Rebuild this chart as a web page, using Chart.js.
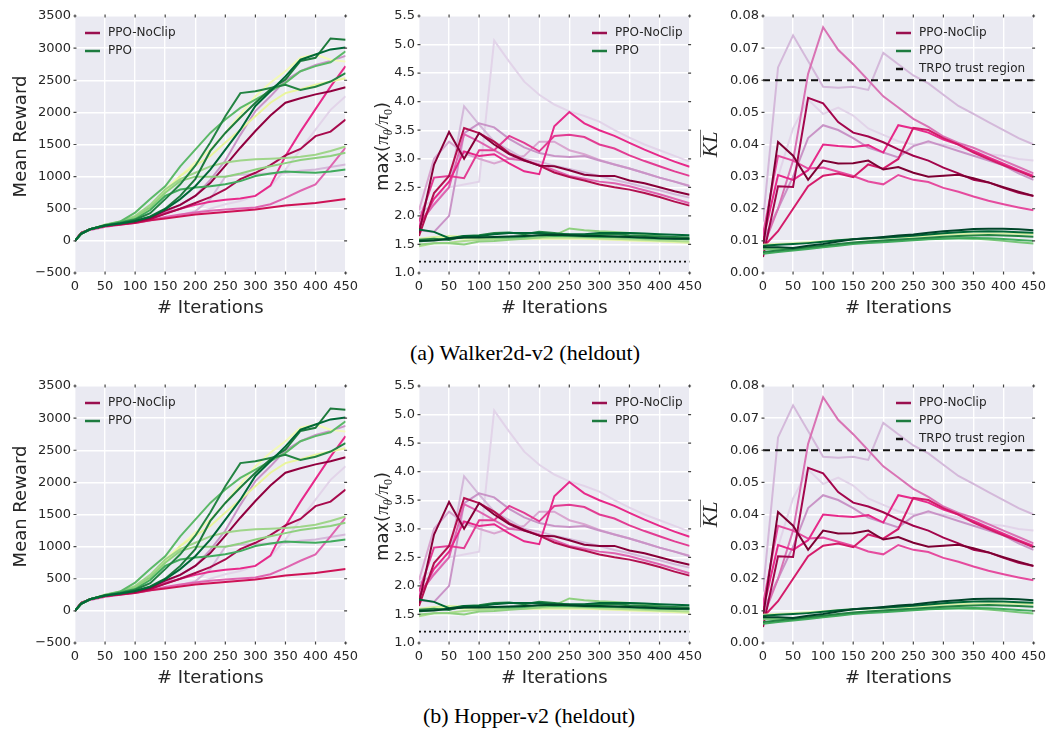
<!DOCTYPE html>
<html>
<head>
<meta charset="utf-8">
<script src="https://cdn.jsdelivr.net/npm/chart.js@4.4.1/dist/chart.umd.min.js"></script>
<style>
  body { margin: 0; background: #fff; width: 1052px; height: 736px; position: relative; overflow: hidden; }
  .plot { position: absolute; }
  .caption { position: absolute; width: 600px; text-align: center; font-family: 'Liberation Serif', 'Times New Roman', serif; font-size: 22px; line-height: 26px; color: #000; }
</style>
</head>
<body>
<div class="plot" style="left:0px;top:0px"><canvas id="rewardA" width="364" height="320"></canvas></div>
<div class="plot" style="left:352px;top:0px"><canvas id="ratioA" width="356" height="320"></canvas></div>
<div class="plot" style="left:700px;top:0px"><canvas id="klA" width="352" height="320"></canvas></div>
<div class="caption" style="left:225px;top:340px">(a) Walker2d-v2 (heldout)</div>
<div class="plot" style="left:0px;top:370px"><canvas id="rewardB" width="364" height="320"></canvas></div>
<div class="plot" style="left:352px;top:370px"><canvas id="ratioB" width="356" height="320"></canvas></div>
<div class="plot" style="left:700px;top:370px"><canvas id="klB" width="352" height="320"></canvas></div>
<div class="caption" style="left:229px;top:703px">(b) Hopper-v2 (heldout)</div>
<script>
// iterations
var rewardIters = [0, 10, 25, 50, 75, 100, 125, 150, 175, 200, 225, 250, 275, 300, 325, 350, 375, 400, 425, 450];
var iters = [0, 25, 50, 75, 100, 125, 150, 175, 200, 225, 250, 275, 300, 325, 350, 375, 400, 425, 450];

// Mean reward, PPO-NoClip runs
var rewardNoClip = [
  [0, 120, 180, 240, 270, 300, 360, 470, 560, 700, 900, 1170, 1450, 1710, 1950, 2150, 2220, 2280, 2330, 2390],
  [0, 120, 180, 230, 260, 290, 340, 420, 500, 590, 680, 800, 960, 1060, 1180, 1330, 1430, 1630, 1700, 1890],
  [0, 120, 180, 230, 260, 290, 340, 430, 500, 560, 610, 640, 660, 700, 860, 1320, 1700, 2050, 2400, 2720],
  [0, 110, 170, 220, 250, 280, 320, 370, 410, 440, 470, 490, 505, 520, 570, 670, 780, 880, 1160, 1450],
  [0, 120, 180, 230, 255, 280, 320, 350, 380, 410, 430, 450, 470, 490, 520, 550, 570, 590, 620, 650],
  [0, 110, 170, 220, 250, 280, 320, 360, 400, 460, 650, 1000, 1030, 1040, 1050, 1060, 1090, 1110, 1150, 1190],
  [0, 110, 170, 220, 250, 280, 310, 350, 400, 440, 500, 570, 620, 700, 850, 1110, 1420, 1730, 2040, 2250],
  [0, 120, 180, 240, 270, 310, 370, 450, 560, 700, 950, 1250, 1650, 2020, 2250, 2500, 2640, 2740, 2800, 2880]
];
// Mean reward, PPO runs
var rewardPPO = [
  [0, 110, 180, 240, 270, 310, 370, 490, 650, 850, 1110, 1420, 1730, 2100, 2330, 2560, 2820, 2900, 2980, 3010],
  [0, 110, 180, 240, 270, 310, 380, 500, 700, 960, 1400, 1680, 1920, 2150, 2360, 2510, 2800, 2850, 3150, 3130],
  [0, 110, 180, 240, 280, 330, 430, 650, 880, 1170, 1530, 1940, 2300, 2330, 2380, 2430, 2350, 2400, 2480, 2610],
  [0, 110, 180, 245, 290, 340, 480, 700, 800, 830, 850, 880, 930, 1010, 1050, 1080, 1070, 1060, 1080, 1110],
  [0, 110, 180, 245, 300, 440, 650, 850, 1160, 1420, 1680, 1890, 2070, 2200, 2330, 2460, 2640, 2720, 2780, 2950],
  [0, 110, 180, 250, 300, 390, 560, 800, 960, 1060, 1160, 1220, 1250, 1270, 1280, 1290, 1310, 1340, 1400, 1470],
  [0, 110, 180, 250, 300, 370, 520, 750, 930, 1000, 1000, 1000, 1050, 1110, 1160, 1210, 1260, 1290, 1320, 1370],
  [0, 110, 180, 245, 290, 360, 520, 750, 1010, 1170, 1320, 1530, 1730, 1940, 2150, 2300, 2360, 2430, 2480, 2530],
  [0, 110, 180, 245, 290, 360, 500, 800, 1010, 1220, 1420, 1680, 1970, 2250, 2460, 2640, 2850, 2900, 2820, 2790]
];
var rewardNoClipColors = ['#91003f', '#a80a4d', '#e7298a', '#df65b0', '#ce1256', '#d4b9da', '#e2d4e9', '#c994c7'];
var rewardPPOColors = ['#006837', '#1d7a3c', '#238443', '#41ab5d', '#5cb968', '#9fd58a', '#8fd07f', '#e9f59d', '#f3fab5'];

// max(pi_theta / pi_0)
var ratioNoClip = [
  [2.1, 2.3, 2.5, 2.55, 2.6, 5.07, 4.7, 4.35, 4.12, 3.95, 3.83, 3.75, 3.65, 3.5, 3.37, 3.25, 3.15, 3.05, 2.95],
  [2.05, 2.2, 2.5, 3.92, 3.6, 3.3, 3.15, 3.0, 2.95, 2.88, 2.82, 2.76, 2.7, 2.63, 2.57, 2.5, 2.45, 2.38, 2.32],
  [1.75, 1.72, 2.0, 3.45, 3.62, 3.55, 3.35, 3.2, 3.1, 3.05, 3.03, 3.05, 2.97, 2.9, 2.83, 2.75, 2.67, 2.6, 2.52],
  [2.1, 3.0, 3.3, 3.1, 3.0, 2.92, 3.0, 3.05, 3.3, 3.3, 3.15, 3.08, 2.98, 2.9, 2.83, 2.75, 2.67, 2.6, 2.53],
  [1.8, 2.3, 2.6, 3.13, 3.05, 3.08, 2.92, 2.78, 2.73, 3.57, 3.82, 3.62, 3.5, 3.4, 3.28, 3.16, 3.05, 2.95, 2.86],
  [1.9, 2.67, 2.7, 2.66, 3.15, 3.15, 3.4, 3.28, 3.13, 3.4, 3.42, 3.38, 3.25, 3.18, 3.06, 2.96, 2.87, 2.78, 2.7],
  [1.85, 2.2, 2.5, 3.43, 3.3, 3.15, 3.0, 2.97, 2.9, 2.8, 2.7, 2.65, 2.6, 2.57, 2.52, 2.45, 2.38, 2.3, 2.22],
  [1.65, 2.4, 2.7, 3.54, 3.45, 3.3, 3.1, 2.98, 2.88, 2.76, 2.68, 2.62, 2.55, 2.5, 2.46, 2.4, 2.33, 2.25, 2.18],
  [1.7, 2.9, 3.47, 3.0, 3.45, 3.25, 3.08, 2.97, 2.88, 2.87, 2.8, 2.72, 2.7, 2.7, 2.62, 2.57, 2.5, 2.43, 2.37]
];
var ratioPPO = [
  [1.76, 1.72, 1.61, 1.65, 1.65, 1.68, 1.7, 1.7, 1.7, 1.68, 1.68, 1.68, 1.7, 1.7, 1.7, 1.69, 1.68, 1.67, 1.66],
  [1.58, 1.6, 1.58, 1.65, 1.66, 1.7, 1.71, 1.68, 1.72, 1.7, 1.67, 1.66, 1.67, 1.68, 1.66, 1.65, 1.64, 1.63, 1.62],
  [1.55, 1.58, 1.6, 1.62, 1.63, 1.62, 1.62, 1.63, 1.66, 1.65, 1.65, 1.64, 1.63, 1.63, 1.62, 1.61, 1.6, 1.6, 1.59],
  [1.5, 1.52, 1.52, 1.5, 1.55, 1.56, 1.58, 1.6, 1.62, 1.66, 1.78, 1.75, 1.73, 1.72, 1.7, 1.68, 1.65, 1.62, 1.6],
  [1.47, 1.52, 1.53, 1.56, 1.58, 1.59, 1.6, 1.61, 1.62, 1.62, 1.62, 1.62, 1.61, 1.6, 1.59, 1.58, 1.57, 1.56, 1.55],
  [1.6, 1.63, 1.65, 1.64, 1.62, 1.6, 1.6, 1.6, 1.61, 1.62, 1.62, 1.61, 1.6, 1.59, 1.58, 1.57, 1.56, 1.55, 1.53],
  [1.58, 1.62, 1.62, 1.6, 1.6, 1.6, 1.61, 1.6, 1.6, 1.6, 1.6, 1.6, 1.59, 1.58, 1.57, 1.56, 1.55, 1.54, 1.53],
  [1.56, 1.57, 1.6, 1.62, 1.62, 1.63, 1.64, 1.65, 1.66, 1.67, 1.66, 1.65, 1.65, 1.64, 1.63, 1.62, 1.61, 1.6, 1.6]
];
var ratioNoClipColors = ['#e2d4e9', '#d4b9da', '#c994c7', '#d9a6d0', '#e7298a', '#e23d93', '#df65b0', '#b3104f', '#880039'];
var ratioPPOColors = ['#006837', '#238443', '#41ab5d', '#8fd07f', '#addd8e', '#d9f0a3', '#eef7ae', '#004529'];
var clipBound = 1.2;

// mean KL
var klNoClip = [
  [0.016, 0.064, 0.074, 0.066, 0.058, 0.0577, 0.058, 0.057, 0.0685, 0.065, 0.0615, 0.059, 0.0555, 0.052, 0.0495, 0.047, 0.0445, 0.042, 0.040],
  [0.012, 0.030, 0.045, 0.054, 0.0495, 0.0515, 0.049, 0.045, 0.043, 0.041, 0.040, 0.0405, 0.040, 0.039, 0.038, 0.037, 0.0365, 0.0355, 0.035],
  [0.010, 0.020, 0.030, 0.042, 0.046, 0.0445, 0.042, 0.039, 0.0375, 0.036, 0.0395, 0.041, 0.0395, 0.038, 0.0365, 0.035, 0.0335, 0.031, 0.029],
  [0.008, 0.020, 0.035, 0.062, 0.0765, 0.0695, 0.065, 0.060, 0.055, 0.0515, 0.048, 0.0455, 0.0425, 0.0405, 0.039, 0.037, 0.035, 0.033, 0.031],
  [0.010, 0.0305, 0.029, 0.032, 0.040, 0.0395, 0.0392, 0.0398, 0.0375, 0.046, 0.045, 0.0437, 0.0415, 0.040, 0.038, 0.036, 0.034, 0.032, 0.0302],
  [0.012, 0.0365, 0.035, 0.0325, 0.0328, 0.0315, 0.0302, 0.0285, 0.0276, 0.0305, 0.029, 0.0283, 0.0265, 0.0253, 0.0238, 0.0225, 0.0214, 0.0204, 0.0195],
  [0.008, 0.013, 0.020, 0.027, 0.0303, 0.031, 0.0298, 0.0338, 0.0325, 0.0355, 0.0452, 0.0445, 0.042, 0.040, 0.0375, 0.0355, 0.0335, 0.0317, 0.0298],
  [0.005, 0.027, 0.0268, 0.0545, 0.0528, 0.047, 0.0437, 0.0425, 0.0407, 0.0385, 0.0365, 0.035, 0.0328, 0.031, 0.029, 0.0282, 0.0265, 0.025, 0.024],
  [0.008, 0.0408, 0.0365, 0.029, 0.035, 0.0341, 0.0342, 0.035, 0.0322, 0.033, 0.0312, 0.030, 0.0303, 0.0306, 0.0295, 0.0282, 0.0267, 0.0253, 0.024]
];
var klPPO = [
  [0.0080, 0.0080, 0.0078, 0.0085, 0.0090, 0.0098, 0.0105, 0.0108, 0.0112, 0.0117, 0.0120, 0.0125, 0.0130, 0.0133, 0.0137, 0.0138, 0.0138, 0.0136, 0.0133],
  [0.0085, 0.0088, 0.0090, 0.0093, 0.0097, 0.0102, 0.0105, 0.0108, 0.0110, 0.0113, 0.0116, 0.0120, 0.0124, 0.0127, 0.0129, 0.0130, 0.0129, 0.0127, 0.0125],
  [0.0065, 0.0070, 0.0075, 0.0080, 0.0085, 0.0090, 0.0095, 0.0098, 0.0101, 0.0104, 0.0107, 0.0110, 0.0113, 0.0115, 0.0117, 0.0118, 0.0117, 0.0115, 0.0113],
  [0.0060, 0.0065, 0.0070, 0.0075, 0.0080, 0.0085, 0.0090, 0.0093, 0.0096, 0.0099, 0.0102, 0.0105, 0.0107, 0.0108, 0.0109, 0.0108, 0.0106, 0.0103, 0.0100],
  [0.0075, 0.0075, 0.0075, 0.0078, 0.0082, 0.0088, 0.0093, 0.0097, 0.0100, 0.0102, 0.0104, 0.0106, 0.0108, 0.0108, 0.0107, 0.0104, 0.0100, 0.0096, 0.0092],
  [0.0088, 0.0090, 0.0093, 0.0096, 0.0099, 0.0102, 0.0105, 0.0107, 0.0109, 0.0111, 0.0113, 0.0116, 0.0119, 0.0121, 0.0122, 0.0123, 0.0123, 0.0122, 0.0121]
];
var klNoClipColors = ['#d4b9da', '#e2d4e9', '#c994c7', '#d973b4', '#e7298a', '#e54b9e', '#d41b6a', '#a3064c', '#7e0033'];
var klPPOColors = ['#004529', '#006837', '#238443', '#41ab5d', '#78c679', '#d9f0a3'];
var trpoBound = 0.06;

var fontSans = "'DejaVu Sans', 'Liberation Sans', sans-serif";
var fontSerif = "'Liberation Serif', 'DejaVu Serif', serif";
var legendNoClip = '#9a0f4f';
var legendPPO = '#1d7b3f';

// lighter runs sit underneath darker ones
function lightness(hex) {
  var r = parseInt(hex.substr(1, 2), 16), g = parseInt(hex.substr(3, 2), 16), b = parseInt(hex.substr(5, 2), 16);
  return (0.299 * r + 0.587 * g + 0.114 * b) / 255;
}

function series(xs, ys, color, order) {
  return {
    data: xs.map(function (x, i) { return {x: x, y: ys[i]}; }),
    borderColor: color,
    borderWidth: 2,
    pointRadius: 0,
    tension: 0,
    fill: false,
    order: order
  };
}

function drawPieces(ctx, pieces) {
  var total = 0;
  pieces.forEach(function (p) { ctx.font = p.font; p.w = ctx.measureText(p.text).width; total += p.w; });
  var x = -total / 2;
  pieces.forEach(function (p) { ctx.font = p.font; ctx.fillText(p.text, x, p.dy); x += p.w; });
  return total;
}

// background, frame ticks, legend and axis titles
var panelDeco = {
  id: 'panelDeco',
  beforeDraw: function (chart) {
    var a = chart.chartArea, ctx = chart.ctx;
    ctx.save();
    ctx.fillStyle = '#eaeaf2';
    ctx.fillRect(a.left, a.top, a.right - a.left, a.bottom - a.top);
    ctx.restore();
  },
  afterDraw: function (chart, args, o) {
    var a = chart.chartArea, ctx = chart.ctx;
    ctx.save();

    // little tick marks on the frame
    ctx.strokeStyle = '#444444';
    ctx.lineWidth = 1.2;
    chart.scales.x.ticks.forEach(function (t) {
      var px = chart.scales.x.getPixelForValue(t.value);
      ctx.beginPath();
      ctx.moveTo(px, a.top - 1.5); ctx.lineTo(px, a.top + 1.5);
      ctx.moveTo(px, a.bottom - 1.5); ctx.lineTo(px, a.bottom + 1.5);
      ctx.stroke();
    });
    chart.scales.y.ticks.forEach(function (t) {
      var py = chart.scales.y.getPixelForValue(t.value);
      ctx.beginPath();
      ctx.moveTo(a.left - 1.5, py); ctx.lineTo(a.left + 1.5, py);
      ctx.moveTo(a.right - 1.5, py); ctx.lineTo(a.right + 1.5, py);
      ctx.stroke();
    });

    ctx.fillStyle = '#262626';
    ctx.textBaseline = 'middle';
    ctx.textAlign = 'center';
    ctx.font = '18px ' + fontSans;
    ctx.fillText('# Iterations', (a.left + a.right) / 2, a.bottom + 35);

    // y title
    ctx.save();
    ctx.translate(a.left + o.yTitleDx, (a.top + a.bottom) / 2 + o.yTitleDy);
    ctx.rotate(-Math.PI / 2);
    ctx.textAlign = 'left';
    ctx.textBaseline = 'alphabetic';
    if (o.kind === 'reward') {
      drawPieces(ctx, [{text: 'Mean Reward', font: '18px ' + fontSans, dy: 7}]);
    } else if (o.kind === 'ratio') {
      drawPieces(ctx, [
        {text: 'max(', font: '18px ' + fontSans, dy: 7},
        {text: '\u03C0', font: 'italic 19px ' + fontSerif, dy: 7},
        {text: '\u03B8', font: 'italic 12px ' + fontSerif, dy: 11},
        {text: '/', font: 'italic 18px ' + fontSerif, dy: 7},
        {text: '\u03C0', font: 'italic 19px ' + fontSerif, dy: 7},
        {text: '0', font: '12px ' + fontSerif, dy: 11},
        {text: ')', font: '18px ' + fontSans, dy: 7}
      ]);
    } else {
      var w = drawPieces(ctx, [{text: 'KL', font: 'italic 21px ' + fontSerif, dy: 7}]);
      ctx.strokeStyle = '#262626';
      ctx.lineWidth = 1.3;
      ctx.beginPath();
      ctx.moveTo(-w / 2, -10);
      ctx.lineTo(w / 2 + 2, -10);
      ctx.stroke();
    }
    ctx.restore();

    // legend
    ctx.textAlign = 'left';
    ctx.font = '12px ' + fontSans;
    o.legend.forEach(function (item, i) {
      var y = a.top + o.legendY + i * 18;
      ctx.strokeStyle = item.color;
      ctx.lineWidth = 2.5;
      ctx.setLineDash(item.dash || []);
      ctx.beginPath();
      ctx.moveTo(a.left + o.legendX, y);
      ctx.lineTo(a.left + o.legendX + (item.dash ? 7 : 15), y);
      ctx.stroke();
      ctx.setLineDash([]);
      ctx.fillStyle = '#262626';
      ctx.fillText(item.text, a.left + o.legendX + 23, y);
    });
    ctx.restore();
  }
};

function makePanel(id, cfg) {
  var datasets = [];
  if (cfg.refLine) {
    datasets.push({
      data: [{x: 0, y: cfg.refLine.value}, {x: 450, y: cfg.refLine.value}],
      borderColor: '#111111', borderWidth: cfg.refLine.width, borderDash: cfg.refLine.dash,
      pointRadius: 0, fill: false, order: -1
    });
  }
  cfg.greens.forEach(function (ys, i) {
    datasets.push(series(cfg.xs, ys, cfg.greenColors[i], lightness(cfg.greenColors[i])));
  });
  cfg.pinks.forEach(function (ys, i) {
    datasets.push(series(cfg.xs, ys, cfg.pinkColors[i], 10 + lightness(cfg.pinkColors[i])));
  });

  var tickFont = {family: fontSans, size: 13};
  new Chart(document.getElementById(id), {
    type: 'line',
    data: {datasets: datasets},
    options: {
      responsive: false,
      animation: false,
      events: [],
      layout: {padding: {top: 16, right: 14, left: 0, bottom: 0}},
      plugins: {
        legend: {display: false},
        tooltip: {enabled: false},
        panelDeco: cfg.deco
      },
      scales: {
        x: {
          type: 'linear', min: 0, max: 450,
          ticks: {stepSize: 50, autoSkip: false, maxRotation: 0, padding: 6, color: '#262626', font: tickFont},
          grid: {color: '#ffffff', lineWidth: 1.4, drawTicks: false},
          border: {display: false},
          afterFit: function (s) { s.height = 47; }
        },
        y: {
          min: cfg.yMin, max: cfg.yMax,
          ticks: {stepSize: cfg.yStep, autoSkip: false, padding: 4, color: '#262626', font: tickFont, callback: cfg.yFormat},
          grid: {color: '#ffffff', lineWidth: 1.4, drawTicks: false},
          border: {display: false},
          afterFit: function (s) { s.width = cfg.yWidth; }
        }
      }
    },
    plugins: [panelDeco]
  });
}

var legend2 = [{text: 'PPO-NoClip', color: legendNoClip}, {text: 'PPO', color: legendPPO}];
var legend3 = legend2.concat([{text: 'TRPO trust region', color: '#111111', dash: [7, 5]}]);

['rewardA', 'rewardB'].forEach(function (id) {
  makePanel(id, {
    xs: rewardIters, pinks: rewardNoClip, greens: rewardPPO,
    pinkColors: rewardNoClipColors, greenColors: rewardPPOColors,
    yMin: -500, yMax: 3500, yStep: 500, yWidth: 75,
    yFormat: function (v) { return v < 0 ? '\u2212' + Math.abs(v) : String(v); },
    deco: {kind: 'reward', yTitleDx: -56, yTitleDy: -8, legend: legend2, legendX: 10, legendY: 17}
  });
});
['ratioA', 'ratioB'].forEach(function (id) {
  makePanel(id, {
    xs: iters, pinks: ratioNoClip, greens: ratioPPO,
    pinkColors: ratioNoClipColors, greenColors: ratioPPOColors,
    refLine: {value: clipBound, dash: [2, 3], width: 1.8},
    yMin: 1.0, yMax: 5.5, yStep: 0.5, yWidth: 67,
    yFormat: function (v) { return v.toFixed(1); },
    deco: {kind: 'ratio', yTitleDx: -38, yTitleDy: 2, legend: legend2, legendX: 173, legendY: 17}
  });
});
['klA', 'klB'].forEach(function (id) {
  makePanel(id, {
    xs: iters, pinks: klNoClip, greens: klPPO,
    pinkColors: klNoClipColors, greenColors: klPPOColors,
    refLine: {value: trpoBound, dash: [7, 5], width: 2.2},
    yMin: 0, yMax: 0.08, yStep: 0.01, yWidth: 63,
    yFormat: function (v) { return v.toFixed(2); },
    deco: {kind: 'kl', yTitleDx: -53, yTitleDy: 0, legend: legend3, legendX: 133, legendY: 17}
  });
});
</script>
</body>
</html>
